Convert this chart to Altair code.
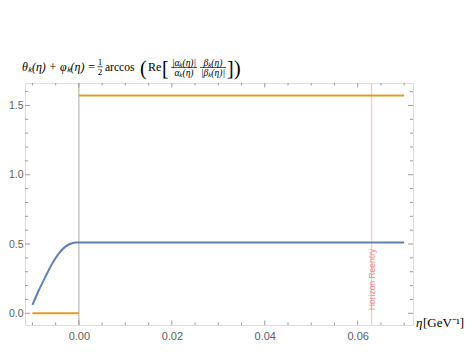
import altair as alt
import pandas as pd

# ---- data ----
eta_blue = [-0.0100, -0.0086, -0.0072, -0.0057, -0.0043, -0.0029, -0.0015, -0.0006, 0.0, 0.07]
val_blue = [0.06, 0.168, 0.264, 0.361, 0.433, 0.481, 0.506, 0.510, 0.510, 0.510]
eta_orange = [-0.01, 0.0, 0.0, 0.07]
val_orange = [0.0, 0.0, 1.571, 1.571]
seg_orange = ["pre", "pre", "post", "post"]
horizon_eta = [0.063]
horizon_label = ["Horizon Reentry"]
x_major = [0.0, 0.02, 0.04, 0.06]
x_minor = [-0.01, -0.005, 0.005, 0.01, 0.015, 0.025, 0.03, 0.035, 0.045, 0.05, 0.055, 0.065, 0.07]
y_major = [0.0, 0.5, 1.0, 1.5]
y_minor = [0.1, 0.2, 0.3, 0.4, 0.6, 0.7, 0.8, 0.9, 1.1, 1.2, 1.3, 1.4, 1.6]
x_domain = [-0.0116, 0.0719]
y_domain = [-0.0845, 1.662]

W, H = 388, 242
OX = 25  # absolute x of the plot's left edge (for title layout)
FRAME = "#9a9a9a"
BLUE = "#5e81b5"
ORANGE = "#e19c24"
SERIF = "Liberation Serif"
SANS = "Liberation Sans"

xs = alt.Scale(domain=x_domain, nice=False, zero=False)
ys = alt.Scale(domain=y_domain, nice=False, zero=False)
xaxis = alt.Axis(values=x_major, format=".2f", ticks=False, domain=False, grid=False,
                 labelPadding=5, labelFontSize=11, labelColor="#606060", labelFont=SANS)
yaxis = alt.Axis(values=y_major, format=".1f", ticks=False, domain=False, grid=False,
                 labelPadding=2, labelFontSize=10.5, labelColor="#606060", labelFont=SANS)


def X(f):
    return alt.X(f, type="quantitative", scale=xs, axis=xaxis, title=None)


def Y(f):
    return alt.Y(f, type="quantitative", scale=ys, axis=yaxis, title=None)


blue_df = pd.DataFrame({"eta": eta_blue, "v": val_blue})
orange_df = pd.DataFrame({"eta": eta_orange, "v": val_orange, "seg": seg_orange})
hor_df = pd.DataFrame({"eta": horizon_eta, "lab": horizon_label})
zero_df = pd.DataFrame({"eta": [0.0]})
one = pd.DataFrame({"d": [0]})

layers = []

# vertical axis line at eta = 0
layers.append(alt.Chart(zero_df).mark_rule(color="#aaaaaa", strokeWidth=1).encode(
    x=X("eta"), y=alt.value(0), y2=alt.value(H)))
# horizon reentry line + label
layers.append(alt.Chart(hor_df).mark_rule(color="#f4c4c4", strokeWidth=1).encode(
    x=X("eta"), y=alt.value(0), y2=alt.value(H)))
layers.append(alt.Chart(hor_df).mark_text(angle=270, color="#f08a8a", fontSize=8.5, font=SANS,
                                          baseline="middle", align="center", dx=-7.5).encode(
    x=X("eta"), y=alt.value(189), text="lab:N"))

# data lines
layers.append(alt.Chart(blue_df).mark_line(color=BLUE, strokeWidth=2, interpolate="monotone").encode(
    x=X("eta"), y=Y("v")))
layers.append(alt.Chart(orange_df).mark_line(color=ORANGE, strokeWidth=2).encode(
    x=X("eta"), y=Y("v"), detail="seg:N"))


# inward frame ticks
def xticks(vals, ln):
    df = pd.DataFrame({"t": vals})
    b = alt.Chart(df).mark_rule(color=FRAME, strokeWidth=1).encode(
        x=X("t"), y=alt.value(H), y2=alt.value(H - ln))
    t = alt.Chart(df).mark_rule(color=FRAME, strokeWidth=1).encode(
        x=X("t"), y=alt.value(0), y2=alt.value(ln))
    return [b, t]


def yticks(vals, ln):
    df = pd.DataFrame({"t": vals})
    l = alt.Chart(df).mark_rule(color=FRAME, strokeWidth=1).encode(
        y=Y("t"), x=alt.value(0), x2=alt.value(ln))
    r = alt.Chart(df).mark_rule(color=FRAME, strokeWidth=1).encode(
        y=Y("t"), x=alt.value(W), x2=alt.value(W - ln))
    return [l, r]


layers += xticks(x_major, 4.5) + xticks(x_minor, 2.5)
layers += yticks(y_major, 5) + yticks(y_minor, 3)


# title pieces (layout only; x given in absolute page pixels)
def txt(s, x, y, size=12, italic=False, align="left", font=SERIF, color="black"):
    return alt.Chart(one).mark_text(text=s, fontSize=size, font=font,
                                    fontStyle="italic" if italic else "normal",
                                    align=align, baseline="alphabetic", color=color).encode(
        x=alt.value(x - OX), y=alt.value(y))


def bar(x1, x2, y):
    return alt.Chart(one).mark_rule(color="black", strokeWidth=0.7).encode(
        x=alt.value(x1 - OX), x2=alt.value(x2 - OX), y=alt.value(y))


layers += [
    txt("θₖ(η) + φₖ(η) =", 22, -12.5, size=12, italic=True),
    txt("1", 100, -18, size=9, align="center"),
    bar(97.5, 102.5, -16.3),
    txt("2", 100, -8, size=9, align="center"),
    txt("arccos", 105, -12.5, size=11.5),
    txt("(", 140, -8, size=20),
    txt("Re", 148, -12.5, size=12),
    txt("[", 162, -8, size=20),
    txt("|αₖ(η)|", 184, -17.5, size=9.5, italic=True, align="center"),
    bar(171, 197, -15.6),
    txt("αₖ(η)", 184, -7.5, size=9.5, italic=True, align="center"),
    txt("βₖ(η)", 213, -17.5, size=9.5, italic=True, align="center"),
    bar(200, 226, -15.6),
    txt("|βₖ(η)|", 213, -7.5, size=9.5, italic=True, align="center"),
    txt("]", 227, -8, size=20),
    txt(")", 234, -8, size=20),
    txt("η", W + OX + 3, 244, size=13, italic=True),
    txt("[GeV⁻¹]", W + OX + 10, 244, size=13),
]

chart = alt.layer(*layers).properties(
    width=W, height=H,
    autosize=alt.AutoSizeParams(type="none"),
    padding={"left": 17, "top": 75, "right": 51, "bottom": 21},
).configure_view(stroke=FRAME, strokeWidth=1).configure(background="white")

chart.save("out.html", embed_options={"renderer": "svg", "actions": False})
